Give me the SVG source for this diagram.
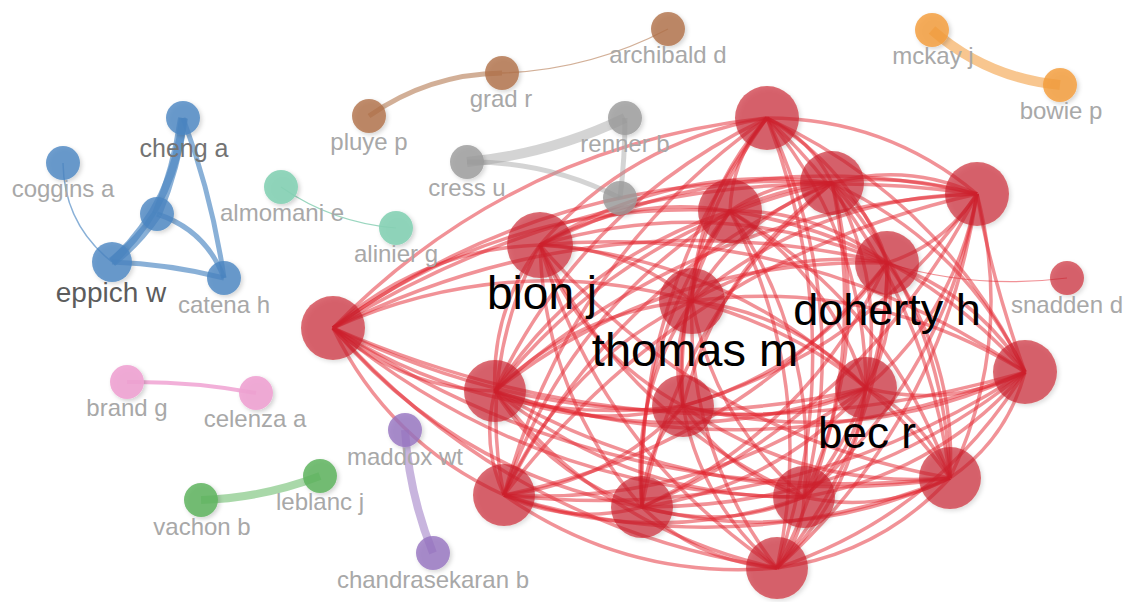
<svg xmlns="http://www.w3.org/2000/svg" width="1127" height="602" viewBox="0 0 1127 602">
<style>
text{font-family:"Liberation Sans",Arial,sans-serif;text-anchor:middle;font-size:24px;fill:#a8a8a8}
.big{fill:#000}
.n{filter:url(#sh)}
.red{fill:#c92028;fill-opacity:.65}
.blue{fill:#4a86c2;fill-opacity:.8}
.brown{fill:#b07148;fill-opacity:.8}
.gray{fill:#9a9a9a;fill-opacity:.8}
.teal{fill:#86d1b5;fill-opacity:.9}
.pink{fill:#efa3d3;fill-opacity:.9}
.green{fill:#5fb45f;fill-opacity:.85}
.purple{fill:#9673c0;fill-opacity:.8}
.orange{fill:#f49c3c;fill-opacity:.82}
#edges path{fill:none}
#red-edges path{stroke:#e3262f;stroke-opacity:.5;stroke-width:3.5}
</style>
<defs>
<filter id="sh" x="-40%" y="-40%" width="180%" height="180%">
<feDropShadow dx="2" dy="2" stdDeviation="2" flood-color="#000" flood-opacity="0.2"/>
</filter>
</defs>
<rect width="1127" height="602" fill="#fff"/>
<g id="edges">
<g id="red-edges">
<path d="M1025 372Q948 409 866 388"/>
<path d="M1025 372Q1007 439 950 478"/>
<path d="M1025 372Q937 474 804 497"/>
<path d="M1025 372Q936 515 777 568"/>
<path d="M1025 372Q858 508 642 507"/>
<path d="M1025 372Q860 451 683 406"/>
<path d="M1025 372Q787 527 504 495"/>
<path d="M1025 372Q763 477 495 391"/>
<path d="M1025 372Q671 475 333 328"/>
<path d="M540 245Q805 221 1025 372"/>
<path d="M692 301Q871 277 1025 372"/>
<path d="M730 211Q907 238 1025 372"/>
<path d="M767 118Q942 199 1025 372"/>
<path d="M832 183Q963 243 1025 372"/>
<path d="M977 194Q990 274 1025 372"/>
<path d="M887 263Q976 293 1025 372"/>
<path d="M866 388Q924 418 950 478"/>
<path d="M866 388Q855 454 804 497"/>
<path d="M866 388Q854 494 777 568"/>
<path d="M866 388Q775 488 642 507"/>
<path d="M866 388Q778 430 683 406"/>
<path d="M866 388Q704 507 504 495"/>
<path d="M866 388Q681 456 495 391"/>
<path d="M866 388Q589 454 333 328"/>
<path d="M540 245Q729 258 866 388"/>
<path d="M692 301Q795 313 866 388"/>
<path d="M730 211Q830 275 866 388"/>
<path d="M767 118Q865 235 866 388"/>
<path d="M832 183Q886 279 866 388"/>
<path d="M977 194Q956 311 866 388"/>
<path d="M887 263Q899 329 866 388"/>
<path d="M950 478Q880 514 804 497"/>
<path d="M950 478Q880 554 777 568"/>
<path d="M950 478Q801 548 642 507"/>
<path d="M950 478Q804 490 683 406"/>
<path d="M950 478Q730 567 504 495"/>
<path d="M950 478Q707 516 495 391"/>
<path d="M950 478Q615 514 333 328"/>
<path d="M950 478Q703 435 540 245"/>
<path d="M692 301Q853 343 950 478"/>
<path d="M730 211Q888 305 950 478"/>
<path d="M767 118Q923 265 950 478"/>
<path d="M832 183Q944 309 950 478"/>
<path d="M977 194Q1015 341 950 478"/>
<path d="M887 263Q957 359 950 478"/>
<path d="M804 497Q803 537 777 568"/>
<path d="M804 497Q725 531 642 507"/>
<path d="M804 497Q727 473 683 406"/>
<path d="M804 497Q654 550 504 495"/>
<path d="M804 497Q630 500 495 391"/>
<path d="M804 497Q538 497 333 328"/>
<path d="M804 497Q627 419 540 245"/>
<path d="M804 497Q713 419 692 301"/>
<path d="M730 211Q819 341 804 497"/>
<path d="M767 118Q854 301 804 497"/>
<path d="M832 183Q875 345 804 497"/>
<path d="M977 194Q945 377 804 497"/>
<path d="M887 263Q888 395 804 497"/>
<path d="M777 568Q699 562 642 507"/>
<path d="M777 568Q701 504 683 406"/>
<path d="M777 568Q627 581 504 495"/>
<path d="M777 568Q604 530 495 391"/>
<path d="M777 568Q512 528 333 328"/>
<path d="M777 568Q600 449 540 245"/>
<path d="M777 568Q686 450 692 301"/>
<path d="M730 211Q818 381 777 568"/>
<path d="M767 118Q853 341 777 568"/>
<path d="M832 183Q874 385 777 568"/>
<path d="M977 194Q944 417 777 568"/>
<path d="M887 263Q887 435 777 568"/>
<path d="M642 507Q644 449 683 406"/>
<path d="M642 507Q571 526 504 495"/>
<path d="M642 507Q548 476 495 391"/>
<path d="M642 507Q455 473 333 328"/>
<path d="M642 507Q544 394 540 245"/>
<path d="M642 507Q630 395 692 301"/>
<path d="M642 507Q633 343 730 211"/>
<path d="M642 507Q635 290 767 118"/>
<path d="M642 507Q679 311 832 183"/>
<path d="M977 194Q866 411 642 507"/>
<path d="M887 263Q808 429 642 507"/>
<path d="M683 406Q610 483 504 495"/>
<path d="M683 406Q586 432 495 391"/>
<path d="M683 406Q494 430 333 328"/>
<path d="M683 406Q583 351 540 245"/>
<path d="M683 406Q669 352 692 301"/>
<path d="M683 406Q671 300 730 211"/>
<path d="M683 406Q673 247 767 118"/>
<path d="M683 406Q717 268 832 183"/>
<path d="M977 194Q868 353 683 406"/>
<path d="M887 263Q811 371 683 406"/>
<path d="M504 495Q481 445 495 391"/>
<path d="M504 495Q388 442 333 328"/>
<path d="M504 495Q477 364 540 245"/>
<path d="M504 495Q563 364 692 301"/>
<path d="M504 495Q566 312 730 211"/>
<path d="M504 495Q568 259 767 118"/>
<path d="M504 495Q612 280 832 183"/>
<path d="M504 495Q686 259 977 194"/>
<path d="M887 263Q737 448 504 495"/>
<path d="M495 391Q403 389 333 328"/>
<path d="M495 391Q491 310 540 245"/>
<path d="M495 391Q577 311 692 301"/>
<path d="M495 391Q580 259 730 211"/>
<path d="M495 391Q582 206 767 118"/>
<path d="M495 391Q626 226 832 183"/>
<path d="M495 391Q701 206 977 194"/>
<path d="M495 391Q668 256 887 263"/>
<path d="M333 328Q422 249 540 245"/>
<path d="M333 328Q508 250 692 301"/>
<path d="M333 328Q510 198 730 211"/>
<path d="M333 328Q512 145 767 118"/>
<path d="M333 328Q556 166 832 183"/>
<path d="M333 328Q631 145 977 194"/>
<path d="M333 328Q598 196 887 263"/>
<path d="M540 245Q626 246 692 301"/>
<path d="M540 245Q629 194 730 211"/>
<path d="M540 245Q631 141 767 118"/>
<path d="M540 245Q675 161 832 183"/>
<path d="M540 245Q749 141 977 194"/>
<path d="M540 245Q717 192 887 263"/>
<path d="M692 301Q695 249 730 211"/>
<path d="M692 301Q697 196 767 118"/>
<path d="M692 301Q741 217 832 183"/>
<path d="M692 301Q815 196 977 194"/>
<path d="M692 301Q783 247 887 263"/>
<path d="M730 211Q732 158 767 118"/>
<path d="M730 211Q776 179 832 183"/>
<path d="M730 211Q850 158 977 194"/>
<path d="M730 211Q818 209 887 263"/>
<path d="M767 118Q811 139 832 183"/>
<path d="M767 118Q886 118 977 194"/>
<path d="M767 118Q853 169 887 263"/>
<path d="M832 183Q907 162 977 194"/>
<path d="M832 183Q874 213 887 263"/>
<path d="M977 194Q944 245 887 263"/>
<path d="M887 263Q975 290 1067 278" style="stroke-width:1.2"/>
</g>
<g id="blue-edges" stroke="#4a86c2" stroke-opacity=".65">
<path d="M112 262Q175 203 183 118" stroke-width="8"/>
<path d="M112 262Q138 242 157 214" stroke-width="10"/>
<path d="M157 214Q176 168 183 118" stroke-width="10"/>
<path d="M183 118Q212 196 224 278" stroke-width="5"/>
<path d="M157 214Q206 230 224 278" stroke-width="5"/>
<path d="M112 262Q169 264 224 278" stroke-width="5"/>
<path d="M63 163Q64 224 112 262" stroke-width="1.5"/>
</g>
<path d="M281 187Q333 223 396 228" stroke="#6fc4a4" stroke-opacity=".7" stroke-width="1.2"/>
<path d="M127 382Q192 381 256 393" stroke="#ec8fc9" stroke-opacity=".7" stroke-width="4"/>
<path d="M201 500Q263 498 320 476" stroke="#63b863" stroke-opacity=".55" stroke-width="8"/>
<path d="M405 430Q409 494 433 553" stroke="#9b78c2" stroke-opacity=".55" stroke-width="8"/>
<path d="M932 30Q987 78 1060 85" stroke="#f4a044" stroke-opacity=".6" stroke-width="10"/>
<path d="M369 116Q429 74 502 73" stroke="#b47a52" stroke-opacity=".6" stroke-width="5"/>
<path d="M502 73Q590 70 668 29" stroke="#b47a52" stroke-opacity=".6" stroke-width="1.3"/>
<path d="M467 162Q550 154 625 118" stroke="#a0a0a0" stroke-opacity=".45" stroke-width="10"/>
<path d="M467 162Q548 161 620 198" stroke="#a0a0a0" stroke-opacity=".45" stroke-width="5"/>
<path d="M625 118Q625 158 620 198" stroke="#a0a0a0" stroke-opacity=".45" stroke-width="5"/>
</g>
<g id="red-nodes">
<g id="n-r1"><circle class="n red" cx="767" cy="118" r="32"/></g>
<g id="n-r2"><circle class="n red" cx="832" cy="183" r="32"/></g>
<g id="n-r3"><circle class="n red" cx="977" cy="194" r="32"/></g>
<g id="n-r4"><circle class="n red" cx="730" cy="211" r="32"/></g>
<g id="n-bion"><circle class="n red" cx="540" cy="245" r="33"/></g>
<g id="n-doherty"><circle class="n red" cx="887" cy="263" r="32"/></g>
<g id="n-thomas"><circle class="n red" cx="692" cy="301" r="33"/></g>
<g id="n-r8"><circle class="n red" cx="333" cy="328" r="32"/></g>
<g id="n-r10"><circle class="n red" cx="1025" cy="372" r="32"/></g>
<g id="n-r11"><circle class="n red" cx="495" cy="391" r="31"/></g>
<g id="n-r12"><circle class="n red" cx="683" cy="406" r="31"/></g>
<g id="n-bec"><circle class="n red" cx="866" cy="388" r="31"/></g>
<g id="n-r15"><circle class="n red" cx="504" cy="495" r="31"/></g>
<g id="n-r16"><circle class="n red" cx="642" cy="507" r="31"/></g>
<g id="n-r17"><circle class="n red" cx="804" cy="497" r="31"/></g>
<g id="n-r18"><circle class="n red" cx="950" cy="478" r="31"/></g>
<g id="n-r19"><circle class="n red" cx="777" cy="568" r="31"/></g>
<g id="n-snadden"><circle class="n red" cx="1067" cy="278" r="17"/><text x="1067" y="313">snadden d</text></g>
</g>
<g id="n-cheng"><circle class="n blue" cx="183" cy="118" r="17"/><text x="184" y="157" style="font-size:25px;fill:#737373">cheng a</text></g>
<g id="n-coggins"><circle class="n blue" cx="63" cy="163" r="17"/><text x="63" y="197">coggins a</text></g>
<g id="n-blue3"><circle class="n blue" cx="157" cy="214" r="17"/></g>
<g id="n-eppich"><circle class="n blue" cx="112" cy="262" r="20"/><text x="111" y="302" style="font-size:28px;fill:#5c5c5c">eppich w</text></g>
<g id="n-catena"><circle class="n blue" cx="224" cy="278" r="17"/><text x="224" y="313">catena h</text></g>
<g id="n-almomani"><circle class="n teal" cx="281" cy="187" r="17"/><text x="282" y="221">almomani e</text></g>
<g id="n-alinier"><circle class="n teal" cx="396" cy="228" r="17"/><text x="396" y="262">alinier g</text></g>
<g id="n-pluye"><circle class="n brown" cx="369" cy="116" r="17"/><text x="369" y="150">pluye p</text></g>
<g id="n-grad"><circle class="n brown" cx="502" cy="73" r="17"/><text x="501" y="107">grad r</text></g>
<g id="n-archibald"><circle class="n brown" cx="668" cy="29" r="17"/><text x="668" y="63">archibald d</text></g>
<g id="n-cress"><circle class="n gray" cx="467" cy="162" r="17"/><text x="467" y="196">cress u</text></g>
<g id="n-renner"><circle class="n gray" cx="625" cy="118" r="17"/><text x="625" y="152">renner b</text></g>
<g id="n-gray3"><circle class="n gray" cx="620" cy="198" r="17"/></g>
<g id="n-mckay"><circle class="n orange" cx="932" cy="30" r="17"/><text x="933" y="64">mckay j</text></g>
<g id="n-bowie"><circle class="n orange" cx="1060" cy="85" r="17"/><text x="1061" y="119">bowie p</text></g>
<g id="n-brand"><circle class="n pink" cx="127" cy="382" r="17"/><text x="127" y="416">brand g</text></g>
<g id="n-celenza"><circle class="n pink" cx="256" cy="393" r="17"/><text x="255" y="427">celenza a</text></g>
<g id="n-maddox"><circle class="n purple" cx="405" cy="430" r="17"/><text x="405" y="465">maddox wt</text></g>
<g id="n-chandrasekaran"><circle class="n purple" cx="433" cy="553" r="17"/><text x="433" y="588">chandrasekaran b</text></g>
<g id="n-leblanc"><circle class="n green" cx="320" cy="476" r="17"/><text x="320" y="510">leblanc j</text></g>
<g id="n-vachon"><circle class="n green" cx="201" cy="500" r="17"/><text x="202" y="535">vachon b</text></g>
<g id="labels-red">
<text class="big" x="542" y="309" style="font-size:46px">bion j</text>
<text class="big" x="695" y="366" style="font-size:47px">thomas m</text>
<text class="big" x="887" y="325" style="font-size:45px">doherty h</text>
<text class="big" x="867" y="448" style="font-size:44px">bec r</text>
</g>
</svg>
